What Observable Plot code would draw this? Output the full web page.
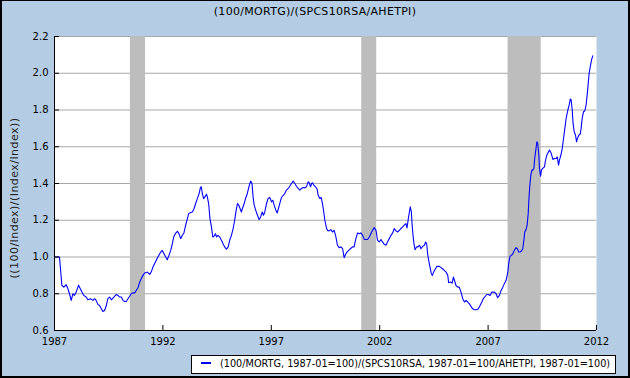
<!DOCTYPE html>
<html>
<head>
<meta charset="utf-8">
<script src="https://cdn.jsdelivr.net/npm/d3@7"></script>
<script src="https://cdn.jsdelivr.net/npm/@observablehq/plot@0.6"></script>
<style>
  html, body { margin: 0; padding: 0; }
  body { width: 630px; height: 378px; overflow: hidden; font-family: "DejaVu Sans", Verdana, sans-serif; }
  #page { position: relative; width: 630px; height: 378px; background: #b4cde4; }
  #chart { position: absolute; left: 0; top: 0; }
  #title { position: absolute; left: 0; top: 5px; width: 630px; text-align: center; font-size: 11px; letter-spacing: 0.3px; color: #000; }
  #ylabel { position: absolute; left: 14px; top: 198px; transform: translate(-50%, -50%) rotate(-90deg); white-space: nowrap; font-size: 11px; letter-spacing: 0.45px; color: #222; }
  #legend { position: absolute; left: 191px; top: 355px; width: 423px; height: 17px; background: #fff; border: 1px solid #000; }
  #legend .sw { position: absolute; left: 9px; top: 6px; width: 10px; height: 2px; background: #0000ff; }
  #legend .tx { position: absolute; left: 28px; top: 2px; font-size: 9.7px; white-space: nowrap; color: #000; }
  #border { position: absolute; left: 0; top: 0; width: 630px; height: 378px; box-sizing: border-box; border-top: 1px solid #000; border-left: 2px solid #000; border-right: 2px solid #000; border-bottom: 2px solid #000; pointer-events: none; }
</style>
</head>
<body>
<div id="page">
  <div id="chart"></div>
  <div id="title"></div>
  <div id="ylabel"></div>
  <div id="legend"><div class="sw"></div><div class="tx"></div></div>
  <div id="border"></div>
</div>
<script>
const titleText = "(100/MORTG)/(SPCS10RSA/AHETPI)";
const yLabelText = "((100/Index)/(Index/Index))";
const legendText = "(100/MORTG, 1987-01=100)/(SPCS10RSA, 1987-01=100/AHETPI, 1987-01=100)";

const yTicks = [0.6, 0.8, 1.0, 1.2, 1.4, 1.6, 1.8, 2.0, 2.2];
const xTicks = [1987, 1992, 1997, 2002, 2007, 2012];

const recessionStart = [1990.5, 2001.17, 2007.92];
const recessionEnd = [1991.2, 2001.86, 2009.45];

const years = [
1987.00,1987.18,1987.23,1987.34,1987.43,1987.54,1987.62,1987.69,1987.77,1987.85,1987.92,
1988.00,1988.11,1988.23,1988.35,1988.46,1988.54,1988.66,1988.77,1988.85,1988.92,
1989.00,1989.08,1989.16,1989.23,1989.31,1989.39,1989.46,1989.54,1989.62,1989.74,1989.85,1989.93,
1990.00,1990.08,1990.16,1990.23,1990.31,1990.39,1990.46,1990.54,1990.62,1990.70,1990.77,1990.85,1990.93,
1991.00,1991.08,1991.16,1991.28,1991.39,1991.46,1991.54,1991.62,1991.77,1991.90,1991.97,
1992.05,1992.13,1992.20,1992.28,1992.36,1992.42,1992.50,1992.57,1992.67,1992.74,1992.82,1992.90,1992.97,
1993.05,1993.13,1993.19,1993.28,1993.36,1993.44,1993.51,1993.59,1993.67,1993.73,1993.77,1993.82,1993.88,1993.96,
1994.01,1994.05,1994.11,1994.17,1994.24,1994.30,1994.36,1994.42,1994.48,1994.54,1994.62,1994.70,1994.77,1994.85,1994.93,
1995.01,1995.08,1995.16,1995.24,1995.31,1995.38,1995.44,1995.50,1995.56,1995.62,1995.67,1995.75,1995.81,1995.87,1995.93,
1996.01,1996.05,1996.11,1996.16,1996.21,1996.28,1996.36,1996.44,1996.51,1996.58,1996.64,1996.70,1996.78,1996.85,1996.93,
1997.01,1997.07,1997.13,1997.21,1997.27,1997.33,1997.39,1997.47,1997.55,1997.62,1997.70,1997.78,1997.85,1997.93,
1998.01,1998.09,1998.16,1998.24,1998.32,1998.39,1998.47,1998.55,1998.62,1998.70,1998.75,1998.81,1998.86,1998.90,1998.96,
1999.04,1999.12,1999.16,1999.24,1999.30,1999.36,1999.42,1999.47,1999.55,1999.59,1999.67,1999.75,1999.82,1999.90,1999.98,
2000.05,2000.13,2000.21,2000.29,2000.36,2000.44,2000.52,2000.62,2000.75,2000.82,2000.90,2000.98,
2001.06,2001.13,2001.21,2001.29,2001.36,2001.44,2001.52,2001.59,2001.67,2001.75,2001.83,2001.90,2001.98,
2002.06,2002.13,2002.21,2002.29,2002.36,2002.44,2002.52,2002.60,2002.67,2002.75,2002.83,2002.90,2002.98,
2003.06,2003.13,2003.21,2003.26,2003.32,2003.37,2003.41,2003.46,2003.49,2003.53,2003.58,2003.63,2003.70,2003.77,2003.84,2003.90,2003.98,
2004.06,2004.12,2004.17,2004.21,2004.26,2004.32,2004.38,2004.43,2004.49,2004.57,2004.64,2004.75,2004.83,2004.90,2004.98,
2005.06,2005.14,2005.18,2005.26,2005.34,2005.40,2005.44,2005.52,2005.60,2005.67,2005.75,2005.83,2005.91,2005.98,
2006.06,2006.14,2006.21,2006.29,2006.37,2006.48,2006.55,2006.63,2006.71,2006.78,2006.86,2006.94,
2007.01,2007.09,2007.17,2007.29,2007.37,2007.44,2007.52,2007.60,2007.68,2007.75,2007.83,2007.91,2007.95,
2008.01,2008.08,2008.14,2008.21,2008.29,2008.35,2008.41,2008.48,2008.54,2008.60,2008.65,2008.69,2008.75,2008.80,2008.85,2008.88,2008.92,2008.97,
2009.02,2009.06,2009.11,2009.15,2009.20,2009.25,2009.29,2009.34,2009.37,2009.42,2009.46,2009.52,2009.60,2009.65,2009.71,2009.79,2009.83,2009.91,2009.99,
2010.06,2010.14,2010.19,2010.25,2010.29,2010.36,2010.42,2010.48,2010.54,2010.60,2010.68,2010.74,2010.79,2010.83,2010.88,2010.92,2010.97,
2011.03,2011.08,2011.12,2011.19,2011.25,2011.29,2011.34,2011.40,2011.46,2011.52,2011.57,2011.62,2011.66,2011.71,2011.77,2011.83
];

const values = [
1.000,1.000,1.000,0.846,0.836,0.849,0.827,0.800,0.764,0.800,0.791,
0.809,0.846,0.818,0.791,0.782,0.767,0.773,0.764,0.773,0.764,
0.742,0.736,0.718,0.704,0.709,0.736,0.773,0.782,0.767,0.782,0.796,0.791,
0.782,0.782,0.764,0.758,0.758,0.773,0.785,0.800,0.805,0.805,0.818,0.833,0.864,
0.882,0.900,0.913,0.918,0.905,0.918,0.945,0.964,1.000,1.027,1.036,
1.018,1.000,0.985,1.009,1.036,1.064,1.109,1.127,1.140,1.127,1.100,1.118,1.131,
1.173,1.209,1.236,1.242,1.245,1.264,1.291,1.318,1.345,1.378,1.382,1.345,1.318,1.331,
1.342,1.327,1.291,1.209,1.164,1.109,1.113,1.127,1.109,1.118,1.109,1.091,1.073,1.055,1.042,
1.055,1.091,1.118,1.155,1.200,1.255,1.291,1.282,1.264,1.245,1.264,1.291,1.318,1.336,1.364,
1.400,1.413,1.400,1.327,1.282,1.255,1.227,1.204,1.218,1.245,1.227,1.245,1.291,1.318,1.324,
1.300,1.309,1.282,1.255,1.240,1.264,1.291,1.324,1.336,1.345,1.364,1.373,1.385,1.400,
1.413,1.400,1.385,1.373,1.364,1.373,1.378,1.376,1.382,1.409,1.404,1.382,1.400,1.404,1.391,
1.382,1.367,1.336,1.318,1.324,1.291,1.245,1.200,1.155,1.145,1.142,1.149,1.136,1.145,1.109,
1.064,1.051,1.055,1.045,0.996,1.018,1.031,1.042,1.055,1.055,1.100,1.131,
1.127,1.131,1.118,1.096,1.095,1.095,1.109,1.127,1.145,1.160,1.145,1.091,1.082,
1.095,1.082,1.069,1.064,1.082,1.100,1.118,1.131,1.155,1.142,1.136,1.145,1.155,
1.164,1.173,1.182,1.158,1.209,1.245,1.273,1.245,1.185,1.127,1.073,1.040,1.055,1.055,1.064,1.045,1.058,
1.064,1.082,1.069,1.018,0.982,0.945,0.909,0.900,0.918,0.936,0.949,0.949,0.942,0.936,0.927,
0.918,0.900,0.860,0.864,0.858,0.891,0.876,0.845,0.836,0.836,0.809,0.773,0.755,0.764,
0.755,0.745,0.731,0.718,0.713,0.713,0.718,0.736,0.755,0.773,0.785,0.796,
0.796,0.791,0.809,0.809,0.800,0.778,0.791,0.818,0.836,0.855,0.873,0.918,0.964,
1.004,1.009,1.018,1.036,1.051,1.045,1.027,1.027,1.033,1.045,1.091,1.136,1.149,1.173,1.236,1.309,1.382,1.445,
1.473,1.473,1.482,1.536,1.582,1.627,1.618,1.555,1.482,1.440,1.473,1.482,1.491,1.527,1.555,1.573,1.582,1.564,1.531,
1.536,1.536,1.545,1.500,1.527,1.555,1.591,1.645,1.700,1.755,1.800,1.827,1.860,1.855,1.800,1.727,1.682,
1.664,1.627,1.645,1.664,1.669,1.700,1.755,1.791,1.795,1.827,1.882,1.945,2.000,2.033,2.073,2.095
];

const series = years.map((y, i) => ({year: y, value: values[i]}));
const recessions = recessionStart.map((s, i) => ({start: s, end: recessionEnd[i]}));

const W = 630, H = 378;
const mL = 54, mR = 34, mT = 36, mB = 48;
const innerW = W - mL - mR, innerH = H - mT - mB;

const chart = Plot.plot({
  width: W, height: H,
  marginLeft: mL, marginRight: mR, marginTop: mT, marginBottom: mB,
  x: {type: "linear", domain: [xTicks[0], xTicks[xTicks.length - 1]]},
  y: {type: "linear", domain: [yTicks[0], yTicks[yTicks.length - 1]]},
  style: {background: "transparent", fontFamily: "DejaVu Sans, Verdana, sans-serif", fontSize: "10px", color: "#000", overflow: "visible"},
  marks: [
    Plot.frame({fill: "#ffffff", stroke: null}),
    Plot.ruleY(yTicks.slice(1), {stroke: "#a8a8a8", strokeWidth: 1}),
    Plot.rect(recessions, {x1: "start", x2: "end", fill: "#bdbdbd"}),
    Plot.line(series, {x: "year", y: "value", stroke: "#0000ff", strokeWidth: 1.1}),
    Plot.ruleX([xTicks[0]], {stroke: "#000", strokeWidth: 1}),
    Plot.ruleY([yTicks[0]], {stroke: "#000", strokeWidth: 1}),
    Plot.ruleY(yTicks, {stroke: "#000", strokeWidth: 1, insetRight: innerW - 5}),
    Plot.ruleX(xTicks, {stroke: "#000", strokeWidth: 1, insetTop: innerH - 5}),
    Plot.axisY({ticks: yTicks, tickSize: 0, tickPadding: 6, tickFormat: d => d.toFixed(1), label: null}),
    Plot.axisX({ticks: xTicks, tickSize: 0, tickPadding: 7, tickFormat: d => String(d), label: null})
  ]
});
document.getElementById("chart").appendChild(chart);
document.getElementById("title").textContent = titleText;
document.getElementById("ylabel").textContent = yLabelText;
document.querySelector("#legend .tx").textContent = legendText;
</script>
</body>
</html>
